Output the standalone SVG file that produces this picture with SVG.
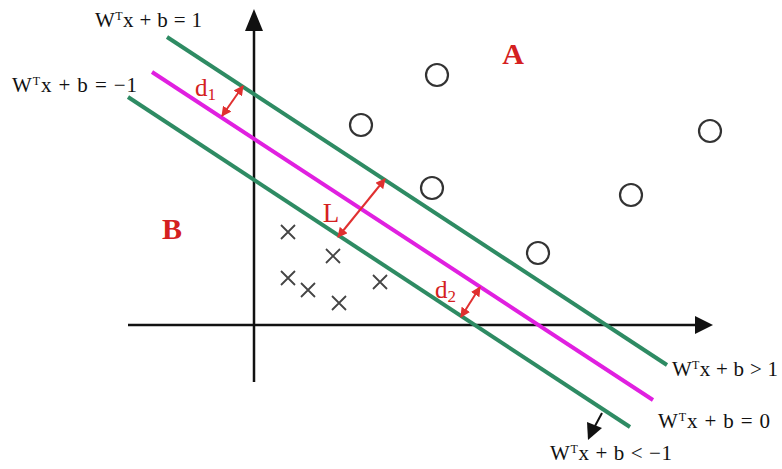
<svg xmlns="http://www.w3.org/2000/svg" width="782" height="469" viewBox="0 0 782 469">
<style>
.ax{stroke:#111;stroke-width:2.5;fill:none}
.g{stroke:#2e8b63;stroke-width:4;fill:none}
.m{stroke:#e020e0;stroke-width:4;fill:none}
.c{stroke:#333;stroke-width:2.2;fill:none}
.x{stroke:#444;stroke-width:1.8;fill:none}
.r{stroke:#e03030;stroke-width:2;fill:none;marker-start:url(#ra);marker-end:url(#ra)}
.eq{font-family:"Liberation Serif",serif;font-size:21px;fill:#111}
.lab{font-family:"Liberation Serif",serif;fill:#d42020}
</style>
<defs>
<marker id="ra" viewBox="0 0 10 10" refX="9" refY="5" markerWidth="5" markerHeight="5" orient="auto-start-reverse" markerUnits="strokeWidth">
<path d="M0,0L10,5L0,10z" fill="#e03030"/>
</marker>
</defs>
<rect width="782" height="469" fill="#fff"/>
<g id="axes">
<line class="ax" x1="254" y1="382" x2="254" y2="28"/>
<polygon points="254,9 245,31 263,31" fill="#111"/>
<line class="ax" x1="128" y1="325" x2="697" y2="325"/>
<polygon points="713,325 695,316 695,334" fill="#111"/>
</g>
<g id="connectors">
<line class="g" x1="167" y1="37" x2="667" y2="365"/>
<line class="m" x1="152" y1="72" x2="653" y2="400"/>
<line class="g" x1="128" y1="97" x2="630" y2="427"/>
<line class="r" x1="222" y1="116" x2="243" y2="86"/>
<line class="r" x1="338" y1="237" x2="385" y2="179"/>
<line class="r" x1="461" y1="317" x2="480" y2="287"/>
<line stroke="#111" stroke-width="2" x1="602" y1="413" x2="595" y2="426"/>
<polygon points="588,440 587,422 602,428" fill="#111"/>
</g>
<g id="classA">
<circle class="c" cx="437" cy="75" r="11"/>
<circle class="c" cx="361" cy="125" r="11"/>
<circle class="c" cx="432" cy="188" r="11"/>
<circle class="c" cx="538" cy="253" r="11"/>
<circle class="c" cx="631" cy="195" r="11"/>
<circle class="c" cx="710" cy="131" r="11"/>
</g>
<g id="classB">
<path class="x" d="M281,225l14,14M295,225l-14,14"/>
<path class="x" d="M326,249l14,14M340,249l-14,14"/>
<path class="x" d="M281,271l14,14M295,271l-14,14"/>
<path class="x" d="M301,283l14,14M315,283l-14,14"/>
<path class="x" d="M332,296l14,14M346,296l-14,14"/>
<path class="x" d="M373,275l14,14M387,275l-14,14"/>
</g>
<g id="labels">
<text class="lab" x="513" y="64" font-size="30" font-weight="bold" text-anchor="middle">A</text>
<text class="lab" x="172" y="239" font-size="30" font-weight="bold" text-anchor="middle">B</text>
<text class="lab" x="331" y="222" font-size="27" text-anchor="middle">L</text>
<text class="lab" x="195" y="96" font-size="25">d<tspan font-size="17" dy="4">1</tspan></text>
<text class="lab" x="435" y="298" font-size="25">d<tspan font-size="17" dy="4">2</tspan></text>
</g>
<g id="equations">
<text class="eq" x="95" y="27" textLength="107">W<tspan font-size="12" dy="-7">T</tspan><tspan dy="7">x + b = 1</tspan></text>
<text class="eq" x="12" y="92" textLength="125">W<tspan font-size="12" dy="-7">T</tspan><tspan dy="7">x + b = −1</tspan></text>
<text class="eq" x="672" y="376" textLength="106">W<tspan font-size="12" dy="-7">T</tspan><tspan dy="7">x + b &gt; 1</tspan></text>
<text class="eq" x="658" y="428" textLength="112">W<tspan font-size="12" dy="-7">T</tspan><tspan dy="7">x + b = 0</tspan></text>
<text class="eq" x="550" y="460" textLength="122">W<tspan font-size="12" dy="-7">T</tspan><tspan dy="7">x + b &lt; −1</tspan></text>
</g>
</svg>
